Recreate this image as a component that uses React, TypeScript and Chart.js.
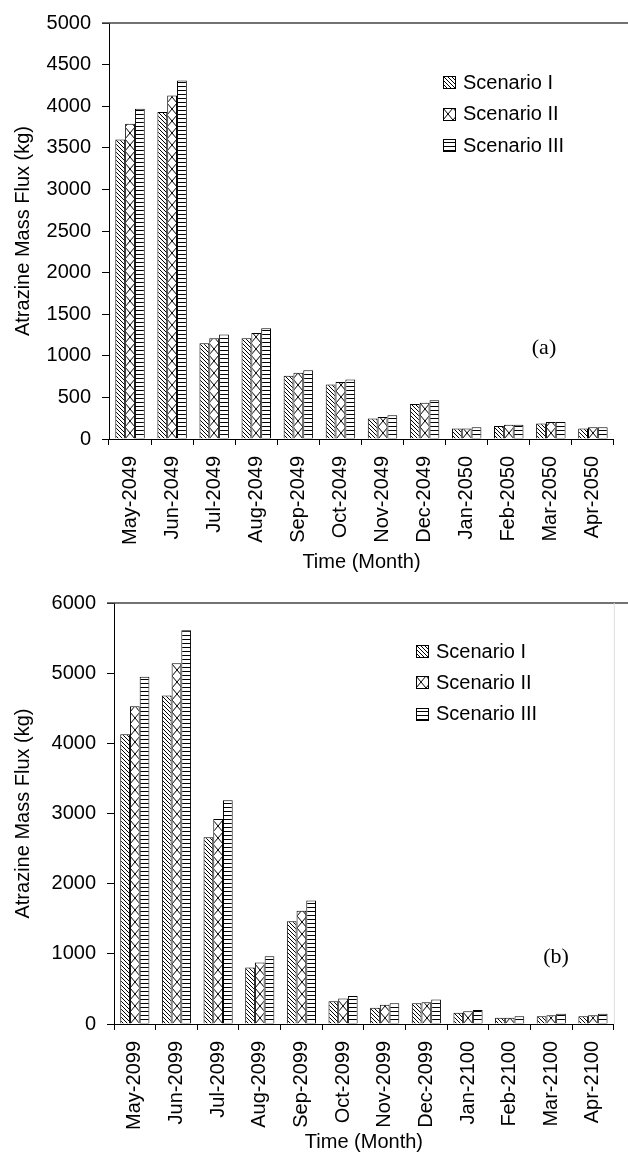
import React, { useEffect, useRef } from 'react';
import { Chart, registerables } from 'chart.js';

Chart.register(...registerables);

// ---------- data ----------
const monthsA = ['May-2049', 'Jun-2049', 'Jul-2049', 'Aug-2049', 'Sep-2049', 'Oct-2049', 'Nov-2049', 'Dec-2049', 'Jan-2050', 'Feb-2050', 'Mar-2050', 'Apr-2050'];
const scen1A = [3600, 3930, 1150, 1210, 760, 655, 245, 420, 125, 155, 185, 125];
const scen2A = [3790, 4130, 1210, 1275, 795, 685, 265, 435, 125, 170, 205, 140];
const scen3A = [3970, 4310, 1255, 1330, 825, 715, 285, 465, 140, 170, 205, 140];
const yTicksA = [0, 500, 1000, 1500, 2000, 2500, 3000, 3500, 4000, 4500, 5000];

const monthsB = ['May-2099', 'Jun-2099', 'Jul-2099', 'Aug-2099', 'Sep-2099', 'Oct-2099', 'Nov-2099', 'Dec-2099', 'Jan-2100', 'Feb-2100', 'Mar-2100', 'Apr-2100'];
const scen1B = [4130, 4680, 2660, 805, 1465, 325, 230, 295, 160, 90, 110, 110];
const scen2B = [4530, 5140, 2920, 875, 1615, 365, 275, 310, 180, 90, 125, 125];
const scen3B = [4950, 5610, 3190, 965, 1760, 400, 295, 350, 200, 110, 145, 145];
const yTicksB = [0, 1000, 2000, 3000, 4000, 5000, 6000];

const scenarioNames = ['Scenario I', 'Scenario II', 'Scenario III'];
const yTitle = 'Atrazine Mass Flux (kg)';
const xTitle = 'Time (Month)';

const FONT = "'Liberation Sans', Arial, Helvetica, sans-serif";
const CAT_PCT = 0.7;

// ---------- hatch tiles ----------
const tileCache: Record<number, HTMLCanvasElement> = {};
function getTile(kind: number): HTMLCanvasElement {
  if (tileCache[kind]) return tileCache[kind];
  const c = document.createElement('canvas');
  let w = 4, h = 4;
  if (kind === 1) { w = 10; h = 12; }
  c.width = w; c.height = h;
  const g = c.getContext('2d')!;
  g.fillStyle = '#fff';
  g.fillRect(0, 0, w, h);
  g.strokeStyle = '#000';
  g.lineWidth = 1;
  g.beginPath();
  if (kind === 0) {
    for (let k = -4; k <= 4; k += 4) { g.moveTo(k, 0); g.lineTo(k + 4, 4); }
  } else if (kind === 1) {
    g.moveTo(0, 0); g.lineTo(10, 12);
    g.moveTo(10, 0); g.lineTo(0, 12);
  } else {
    g.moveTo(0, 3.5); g.lineTo(4, 3.5);
  }
  g.stroke();
  tileCache[kind] = c;
  return c;
}

function makePattern(ctx: CanvasRenderingContext2D, kind: number, ox: number, oy: number) {
  const p = ctx.createPattern(getTile(kind), 'repeat')!;
  try { p.setTransform(new DOMMatrix([1, 0, 0, 1, ox, oy])); } catch (e) { /* ignore */ }
  return p;
}

function barFill(sctx: any, kind: number, n: number) {
  const chart = sctx.chart;
  const xs = chart.scales && chart.scales.x;
  if (!xs || sctx.type !== 'data' || !xs.width) return makePattern(chart.ctx, kind, 0, 0);
  const cw = xs.width / n;
  const gw = cw * CAT_PCT;
  const bw = gw / 3;
  const left = xs.getPixelForValue(sctx.dataIndex) - gw / 2 + sctx.datasetIndex * bw;
  const base = chart.chartArea ? chart.chartArea.bottom : 0;
  return makePattern(chart.ctx, kind, Math.round(left), base);
}

// ---------- decoration plugin: top frame line, legend, panel tag ----------
const decoPlugin = {
  id: 'deco',
  afterDraw(chart: any, _args: any, opts: any) {
    const ctx: CanvasRenderingContext2D = chart.ctx;
    const a = chart.chartArea;
    ctx.save();
    // top frame line
    ctx.strokeStyle = '#444';
    ctx.lineWidth = 1.5;
    ctx.beginPath();
    ctx.moveTo(a.left - 7, a.top);
    ctx.lineTo(chart.width, a.top);
    ctx.stroke();
    if (opts.rightLine) {
      ctx.strokeStyle = '#ddd';
      ctx.lineWidth = 1;
      ctx.beginPath();
      ctx.moveTo(a.right + 0.5, a.top);
      ctx.lineTo(a.right + 0.5, a.bottom);
      ctx.stroke();
    }
    // legend
    const lg = opts.legend;
    chart.data.datasets.forEach((ds: any, i: number) => {
      const cy = lg.y + i * lg.dy;
      const bx = lg.x, by = Math.round(cy - 6);
      ctx.fillStyle = makePattern(ctx, i, bx, by);
      ctx.fillRect(bx, by, 12, 12);
      ctx.strokeStyle = '#000';
      ctx.lineWidth = 1;
      ctx.strokeRect(bx + 0.5, by + 0.5, 12, 12);
      ctx.fillStyle = '#000';
      ctx.font = `20px ${FONT}`;
      ctx.textAlign = 'left';
      ctx.textBaseline = 'middle';
      ctx.fillText(ds.label, lg.textX, cy + 1);
    });
    // panel tag
    ctx.fillStyle = '#000';
    ctx.font = "22px 'Liberation Serif', 'Times New Roman', serif";
    ctx.textAlign = 'center';
    ctx.textBaseline = 'middle';
    ctx.fillText(opts.tag.text, opts.tag.x, opts.tag.y);
    ctx.restore();
  },
};

interface PanelProps {
  labels: string[];
  series: number[][];
  yTicks: number[];
  width: number;
  height: number;
  padTop: number;
  padRight: number;
  yWidth: number;
  xHeight: number;
  xTitlePad: number;
  legend: { x: number; y: number; dy: number; textX: number };
  tag: { text: string; x: number; y: number };
  rightLine: boolean;
}

function BarPanel(p: PanelProps) {
  const ref = useRef<HTMLCanvasElement | null>(null);
  useEffect(() => {
    if (!ref.current) return;
    const n = p.labels.length;
    const chart = new Chart(ref.current, {
      type: 'bar',
      data: {
        labels: p.labels,
        datasets: p.series.map((vals, k) => ({
          label: scenarioNames[k],
          data: vals,
          backgroundColor: (c: any) => barFill(c, k, n),
          borderColor: '#000',
          borderWidth: 1,
          categoryPercentage: CAT_PCT,
          barPercentage: 1,
        })),
      },
      options: {
        responsive: false,
        animation: false,
        events: [],
        layout: { padding: { top: p.padTop, right: p.padRight, left: 0, bottom: 0 } },
        plugins: {
          legend: { display: false },
          tooltip: { enabled: false },
          deco: { legend: p.legend, tag: p.tag, rightLine: p.rightLine },
        } as any,
        scales: {
          x: {
            afterFit: (s: any) => { s.height = p.xHeight; },
            ticks: { autoSkip: false, minRotation: 90, maxRotation: 90, padding: 11, color: '#000', font: { size: 20, family: FONT } },
            grid: { offset: true, drawOnChartArea: false, tickLength: 6, color: '#000' },
            border: { display: true, color: '#000', width: 1 },
            title: { display: true, text: xTitle, color: '#000', font: { size: 20, family: FONT }, padding: { top: 0, bottom: p.xTitlePad } },
          },
          y: {
            min: 0,
            max: p.yTicks[p.yTicks.length - 1],
            afterBuildTicks: (s: any) => { s.ticks = p.yTicks.map((v) => ({ value: v })); },
            afterFit: (s: any) => { s.width = p.yWidth; },
            ticks: { padding: 11, color: '#000', font: { size: 20, family: FONT }, callback: (v: any) => String(v) },
            grid: { drawOnChartArea: false, tickLength: 7, color: '#000' },
            border: { display: true, color: '#000', width: 1 },
            title: { display: true, text: yTitle, color: '#000', font: { size: 20, family: FONT }, padding: { top: 11, bottom: 0 } },
          },
        },
      } as any,
      plugins: [decoPlugin],
    });
    return () => chart.destroy();
  }, []);
  return <canvas ref={ref} width={p.width} height={p.height} style={{ display: 'block', width: p.width, height: p.height }} />;
}

export default function App() {
  return (
    <div style={{ position: 'absolute', left: 0, top: 0, width: 628, height: 1154, background: '#fff' }}>
      <BarPanel
        labels={monthsA}
        series={[scen1A, scen2A, scen3A]}
        yTicks={yTicksA}
        width={628}
        height={580}
        padTop={21}
        padRight={2}
        yWidth={109}
        xHeight={141}
        xTitlePad={6}
        legend={{ x: 443, y: 82, dy: 31.7, textX: 463 }}
        tag={{ text: '(a)', x: 544, y: 348 }}
        rightLine={false}
      />
      <BarPanel
        labels={monthsB}
        series={[scen1B, scen2B, scen3B]}
        yTicks={yTicksB}
        width={628}
        height={574}
        padTop={19}
        padRight={1}
        yWidth={114}
        xHeight={130}
        xTitlePad={0}
        legend={{ x: 416, y: 71, dy: 31.3, textX: 436 }}
        tag={{ text: '(b)', x: 556, y: 377 }}
        rightLine={true}
      />
    </div>
  );
}
